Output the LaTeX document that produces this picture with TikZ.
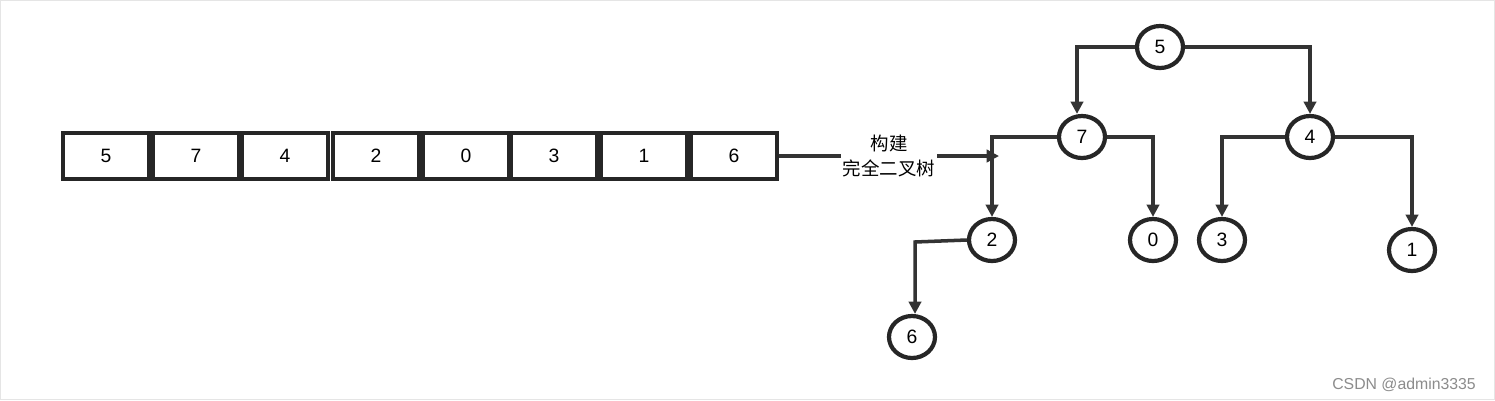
\documentclass[tikz,border=0pt]{standalone}
\usepackage{fontspec}
\setmainfont{Liberation Sans}
\newfontfamily\cjk{Noto Sans CJK SC}
\usetikzlibrary{arrows.meta}
\begin{document}
\begin{tikzpicture}[x=0.02cm,y=-0.02cm,
  cell/.style={draw=black!85,line width=2.4pt,minimum width=86*0.02cm,minimum height=46*0.02cm,font=\fontsize{11}{13}\selectfont,inner sep=0},
  tn/.style={draw=black!85,line width=2.4pt,ellipse,minimum width=46*0.02cm,minimum height=42*0.02cm,inner sep=0,font=\fontsize{11}{13}\selectfont},
  con/.style={draw=black!80,line width=2pt,-{Triangle[length=7pt,width=7pt]}}]
\usetikzlibrary{shapes.geometric}
\fill[white] (0,0) rectangle (1495,400);
\draw[black!10] (0.5,0.5) rectangle (1494.5,399.5);
\foreach \v/\x [count=\i] in {5/106,7/196,4/285,2/376,0/466,3/554,1/644,6/734}
  \node[cell] (c\i) at (\x,156) {\v};
\node[tn] (n5) at (1160,47) {5};
\node[tn] (n7) at (1082,137) {7};
\node[tn] (n4) at (1310,137) {4};
\node[tn] (n2) at (992,240) {2};
\node[tn] (n0) at (1153,240) {0};
\node[tn] (n3) at (1222,240) {3};
\node[tn] (n1) at (1412,250) {1};
\node[tn] (n6) at (912,337) {6};
\coordinate (ae) at (999,156);
\draw[con] (c8.east) -- (ae) node[midway,fill=white,align=center,inner sep=1pt,font=\cjk\fontsize{10.5}{14}\selectfont] {构建\\完全二叉树};
\draw[con] (n5.west) -| (n7.north -| 1077,0);
\draw[con] (n5.east) -| (n4.north);
\draw[con] (n7.west) -| (n2.north);
\draw[con] (n7.east) -| (n0.north);
\draw[con] (n4.west) -| (n3.north);
\draw[con] (n4.east) -| (n1.north);
\draw[con] (n2.west) -- (915,242) -- (n6.north -| 915,0);
\node[text=black!45,font=\fontsize{9}{11}\selectfont,anchor=east] (wm) at (1482,385) {CSDN @admin3335};
\end{tikzpicture}
\end{document}
